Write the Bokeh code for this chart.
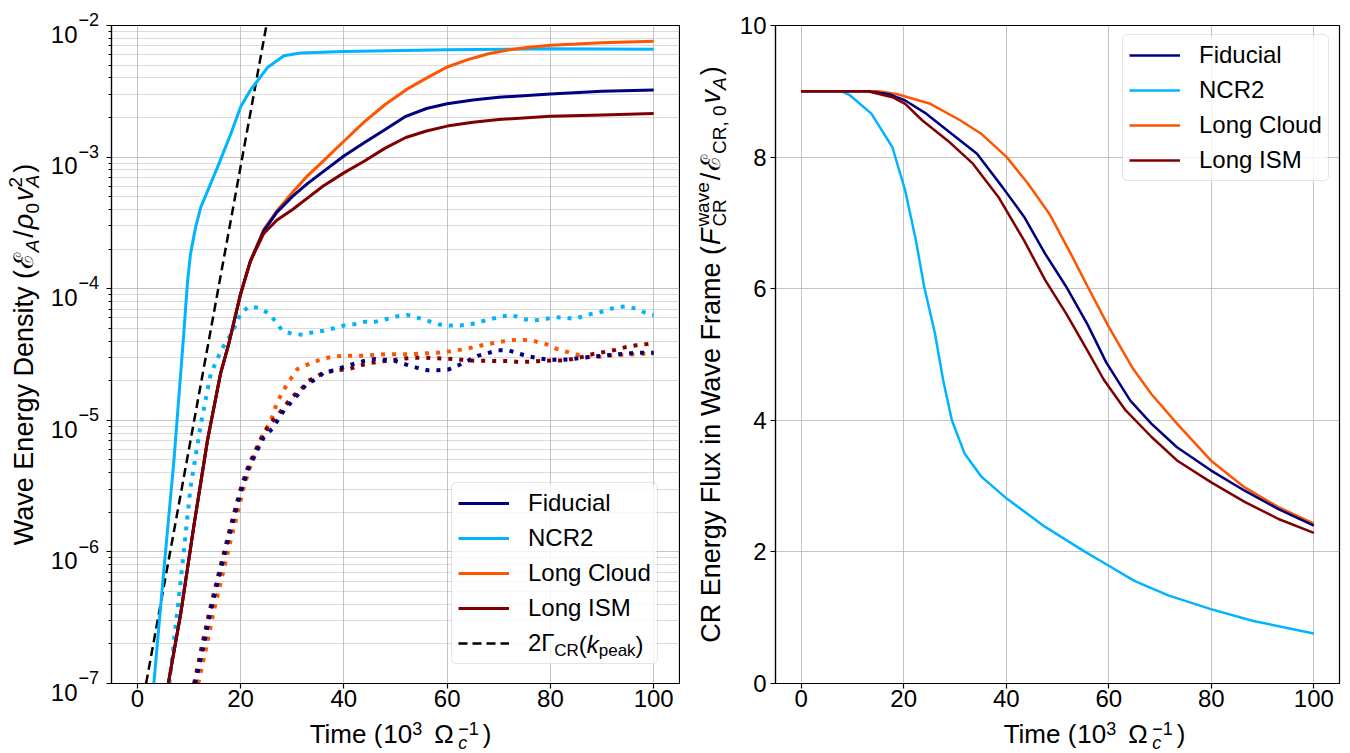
import math
from bokeh.plotting import figure
from bokeh.layouts import row, column
from bokeh.models import (Range1d, FixedTicker, Label, Legend, LegendItem, BoxAnnotation,
                          CustomJSTickFormatter)
from bokeh.embed import file_html
from bokeh.resources import INLINE

FONT = "Liberation Sans"

# ---------------- wave energy density (left panel) ----------------
# solid: total wave energy, dotted: energy at the peak mode
t_fid = [6.0, 8.4, 11.0, 13.6, 16.1, 17.7, 20.0, 21.9, 24.5, 27, 30, 33, 36, 40, 44, 48,
         52, 56, 60, 65, 70, 80, 90, 100]
e_fid = [1.0e-7, 3.39e-7, 1.62e-6, 7.08e-6, 2.25e-5, 3.80e-5, 9.12e-5, 1.62e-4, 2.75e-4,
         3.80e-4, 5.01e-4, 6.31e-4, 7.76e-4, 1.02e-3, 1.29e-3, 1.62e-3, 2.04e-3, 2.34e-3,
         2.54e-3, 2.72e-3, 2.85e-3, 3.02e-3, 3.16e-3, 3.24e-3]

t_ncr2 = [3.2, 5.0, 7.1, 9.0, 9.7, 10.3, 11.3, 12.3, 15.5, 18.1, 20.0, 21.9, 22.6, 25.2,
          28.4, 31.6, 40, 60, 80, 100]
e_ncr2 = [1.0e-7, 6.31e-7, 5.01e-6, 4.57e-5, 1.10e-4, 1.84e-4, 2.95e-4, 4.17e-4, 8.32e-4,
          1.50e-3, 2.40e-3, 3.24e-3, 3.50e-3, 4.79e-3, 5.89e-3, 6.17e-3, 6.35e-3, 6.55e-3,
          6.65e-3, 6.60e-3]

t_cloud = [6.0, 8.4, 11.0, 13.6, 16.1, 17.7, 20.0, 21.9, 24.5, 27, 30, 33, 36, 40, 44, 48,
           52, 56, 60, 64, 68, 72, 76, 80, 85, 90, 95, 100]
e_cloud = [1.0e-7, 3.39e-7, 1.62e-6, 7.08e-6, 2.25e-5, 3.80e-5, 9.12e-5, 1.62e-4, 2.82e-4,
           3.89e-4, 5.37e-4, 7.24e-4, 9.33e-4, 1.32e-3, 1.86e-3, 2.51e-3, 3.24e-3, 3.98e-3,
           4.84e-3, 5.50e-3, 6.10e-3, 6.53e-3, 6.84e-3, 7.08e-3, 7.24e-3, 7.41e-3, 7.50e-3,
           7.59e-3]

t_ism = [6.0, 8.4, 11.0, 13.6, 16.1, 17.7, 20.0, 21.9, 24.5, 27, 30, 33, 36, 40, 44, 48,
         52, 56, 60, 65, 70, 80, 90, 100]
e_ism = [1.0e-7, 3.39e-7, 1.62e-6, 7.08e-6, 2.25e-5, 3.80e-5, 9.12e-5, 1.62e-4, 2.63e-4,
         3.31e-4, 3.98e-4, 4.90e-4, 6.03e-4, 7.59e-4, 9.33e-4, 1.17e-3, 1.41e-3, 1.58e-3,
         1.72e-3, 1.84e-3, 1.93e-3, 2.04e-3, 2.09e-3, 2.14e-3]

t_rate = [1.7, 25.0]
e_rate = [1.0e-7, 1.0e-2]

tp_ncr2 = [6.2, 8.4, 10.3, 12.3, 14.2, 16.1, 17.1, 18.4, 20.0, 21.6, 23.6, 25.5, 26.8, 28.1,
           30.0, 32.0, 34.2, 36.1, 38.1, 40.0, 42.0, 44.2, 46.2, 48.3, 50.4, 52.3, 54.2, 56.3,
           58.3, 60.4, 62.3, 64.6, 66.5, 68.6, 70.6, 72.6, 74.6, 76.6, 78.6, 80.7, 82.8, 84.8,
           86.8, 88.8, 90.8, 92.7, 94.8, 96.8, 98.7, 100]
ep_ncr2 = [1.0e-7, 6.03e-7, 3.09e-6, 9.33e-6, 2.24e-5, 3.31e-5, 3.89e-5, 4.68e-5, 6.46e-5,
           7.33e-5, 7.16e-5, 6.46e-5, 5.62e-5, 4.79e-5, 4.54e-5, 4.47e-5, 4.68e-5, 4.79e-5,
           5.01e-5, 5.25e-5, 5.37e-5, 5.62e-5, 5.62e-5, 5.89e-5, 6.17e-5, 6.31e-5, 6.03e-5,
           5.69e-5, 5.37e-5, 5.25e-5, 5.25e-5, 5.37e-5, 5.62e-5, 5.89e-5, 6.17e-5, 6.31e-5,
           5.89e-5, 5.75e-5, 5.82e-5, 6.08e-5, 6.03e-5, 5.89e-5, 6.31e-5, 6.53e-5, 6.82e-5,
           7.24e-5, 7.33e-5, 7.00e-5, 6.46e-5, 6.31e-5]

tp_fid = [11.2, 12.9, 14.2, 15.8, 17.4, 18.7, 20.3, 21.6, 23.2, 24.5, 26.1, 28.4, 31.0, 32.9,
          34.9, 36.1, 38.1, 40.0, 42.0, 43.9, 46.0, 48.1, 50.0, 52.1, 54.1, 56.2, 58.2, 60.2,
          62.3, 63.9, 65.9, 67.9, 69.9, 72.0, 74.0, 76.0, 78.0, 80.0, 82.1, 84.3, 86.3, 88.3,
          90.4, 92.5, 94.6, 96.6, 98.6, 100]
ep_fid = [1.0e-7, 2.0e-7, 3.55e-7, 6.46e-7, 1.15e-6, 1.82e-6, 3.09e-6, 4.37e-6, 5.89e-6,
          7.41e-6, 8.61e-6, 1.19e-5, 1.55e-5, 1.91e-5, 2.07e-5, 2.32e-5, 2.40e-5, 2.54e-5,
          2.69e-5, 2.82e-5, 2.92e-5, 2.88e-5, 2.82e-5, 2.65e-5, 2.51e-5, 2.40e-5, 2.40e-5,
          2.43e-5, 2.63e-5, 2.82e-5, 3.09e-5, 3.24e-5, 3.41e-5, 3.39e-5, 3.20e-5, 3.05e-5,
          2.95e-5, 2.88e-5, 2.88e-5, 2.92e-5, 2.99e-5, 3.05e-5, 3.10e-5, 3.16e-5, 3.20e-5,
          3.26e-5, 3.26e-5, 3.26e-5]

tp_cloud = [11.8, 13.5, 14.8, 16.4, 17.9, 19.2, 20.6, 21.8, 23.2, 24.4, 25.8, 27.1, 29.1,
            31.0, 33.9, 36.1, 38.1, 40.0, 44.0, 48.3, 52.4, 56.6, 58.6, 60.7, 62.8, 64.8,
            66.8, 68.8, 70.9, 72.9, 75.0, 77.1, 79.1, 81.0, 83.0, 85.1, 87.1, 89.1, 91.1,
            93.2, 95.3, 97.3, 100]
ep_cloud = [1.0e-7, 2.0e-7, 3.55e-7, 6.46e-7, 1.15e-6, 1.82e-6, 3.09e-6, 4.37e-6, 6.03e-6,
            7.94e-6, 9.77e-6, 1.38e-5, 1.91e-5, 2.45e-5, 2.75e-5, 2.95e-5, 3.05e-5, 3.10e-5,
            3.10e-5, 3.18e-5, 3.18e-5, 3.24e-5, 3.27e-5, 3.35e-5, 3.45e-5, 3.57e-5, 3.72e-5,
            3.85e-5, 3.98e-5, 4.07e-5, 4.07e-5, 3.98e-5, 3.80e-5, 3.51e-5, 3.33e-5, 3.16e-5,
            3.04e-5, 3.02e-5, 3.09e-5, 3.13e-5, 3.16e-5, 3.20e-5, 3.20e-5]

tp_ism = [11.0, 12.6, 14.0, 15.6, 17.2, 18.5, 20.1, 21.4, 23.0, 24.3, 25.8, 27.4, 30.0, 31.6,
          33.2, 36.0, 38.5, 41.0, 42.9, 45.0, 47.1, 49.2, 51.2, 53.3, 55.4, 57.4, 59.5, 61.6,
          63.6, 65.7, 67.8, 69.8, 71.9, 74.0, 76.2, 78.2, 80.3, 82.3, 84.3, 86.5, 88.4, 90.5,
          92.6, 94.6, 96.7, 98.8, 100]
ep_ism = [1.0e-7, 2.0e-7, 3.55e-7, 6.46e-7, 1.15e-6, 1.82e-6, 3.09e-6, 4.37e-6, 6.03e-6,
          7.76e-6, 9.55e-6, 1.12e-5, 1.51e-5, 1.70e-5, 2.00e-5, 2.29e-5, 2.40e-5, 2.45e-5,
          2.59e-5, 2.72e-5, 2.80e-5, 2.85e-5, 2.93e-5, 2.99e-5, 2.99e-5, 2.96e-5, 2.95e-5,
          2.92e-5, 2.85e-5, 2.83e-5, 2.83e-5, 2.82e-5, 2.82e-5, 2.77e-5, 2.79e-5, 2.82e-5,
          2.85e-5, 2.85e-5, 2.92e-5, 3.05e-5, 3.20e-5, 3.31e-5, 3.43e-5, 3.60e-5, 3.72e-5,
          3.80e-5, 3.85e-5]

# ---------------- CR energy flux in wave frame (right panel) ----------------
tf_fid = [0, 13, 17, 20.3, 24.4, 29.4, 34.3, 39.3, 43.5, 47.6, 51.7, 55.9, 59.5, 64.2, 68.3,
          73.3, 79.9, 86.5, 93.1, 100]
f_fid = [9.0, 9.0, 8.96, 8.86, 8.66, 8.35, 8.05, 7.54, 7.09, 6.53, 6.03, 5.45, 4.88, 4.30,
         3.95, 3.59, 3.24, 2.93, 2.65, 2.40]

tf_ncr2 = [0, 7.9, 9.5, 13.7, 17.8, 20.3, 22.4, 24.0, 26.1, 27.7, 29.4, 31.9, 35.2, 40.1,
           47.6, 55.0, 60.0, 65.0, 71.6, 79.9, 88.2, 100]
f_ncr2 = [9.0, 9.0, 8.94, 8.66, 8.15, 7.49, 6.73, 6.03, 5.32, 4.61, 4.0, 3.49, 3.14, 2.81,
          2.38, 2.02, 1.79, 1.56, 1.34, 1.13, 0.95, 0.76]

tf_cloud = [0, 15, 18.6, 25.2, 31.0, 35.2, 40.1, 44.3, 48.4, 52.6, 55.9, 60.0, 64.6, 68.3,
            73.3, 79.9, 86.5, 93.1, 100]
f_cloud = [9.0, 9.0, 8.96, 8.81, 8.56, 8.35, 8.0, 7.59, 7.14, 6.53, 6.03, 5.42, 4.80, 4.40,
           3.95, 3.39, 2.98, 2.68, 2.43]

tf_ism = [0, 13, 17.8, 20.3, 23.6, 28.6, 33.5, 38.5, 43.5, 47.6, 51.7, 55.9, 59.0, 63.3, 68.3,
          73.3, 79.9, 86.5, 93.1, 100]
f_ism = [9.0, 9.0, 8.91, 8.81, 8.56, 8.25, 7.90, 7.39, 6.73, 6.13, 5.62, 5.05, 4.62, 4.15,
         3.75, 3.39, 3.06, 2.76, 2.50, 2.29]

x_ticks = [0, 20, 40, 60, 80, 100]
log_exponents = [-7, -6, -5, -4, -3, -2]
flux_ticks = [0, 2, 4, 6, 8, 10]

C_FID, C_NCR2, C_CLOUD, C_ISM = "#000080", "#00b4ff", "#ff5500", "#800000"

# Liberation Sans advance widths (1/1000 em) for laying out composed labels
ADV = {" ": 278, "(": 333, ")": 333, ",": 278, "/": 278, "−": 584, "A": 667, "C": 722,
       "D": 722, "E": 667, "F": 611, "I": 278, "L": 556, "M": 833, "N": 722, "R": 722,
       "T": 611, "W": 944, "a": 556, "c": 500, "d": 556, "e": 556, "g": 556, "i": 222,
       "k": 500, "l": 222, "m": 833, "n": 556, "o": 556, "p": 556, "r": 333, "s": 500,
       "t": 278, "u": 556, "v": 500, "w": 722, "x": 500, "y": 500, "Γ": 556, "Ω": 768,
       "ρ": 578, "ℰ": 620}
for d in "0123456789":
    ADV[d] = 556
MID = 0.3465   # em-box centre above the baseline, in em


def adv(text, size):
    return sum(ADV.get(ch, 600) for ch in text) * size / 1000.0


def item_width(it):
    if isinstance(it, (int, float)):
        return float(it)
    group = it if isinstance(it, list) else [it]
    return max(adv(g[0], g[1]) for g in group)


def run_width(items):
    return sum(item_width(it) for it in items)


def place_run(fig, items, x0, y0, vertical=False):
    """Lay out a run of text pieces (with sub/superscripts) in screen units, starting at
    (x0, y0) on the main baseline.  A piece is (text, size_px, style, baseline_shift_px);
    a bare number is a gap in pixels."""
    pos = 0.0
    for it in items:
        if not isinstance(it, (int, float)):
            group = it if isinstance(it, list) else [it]
            for txt, size, style, shift in group:
                c = shift + MID * size
                if vertical:
                    x, y, ang = x0 - c, y0 + pos, math.pi / 2
                else:
                    x, y, ang = x0 + pos, y0 + c, 0.0
                fig.add_layout(Label(x=x, y=y, x_units="screen", y_units="screen",
                                     text=txt, angle=ang, text_font=FONT,
                                     text_font_size=f"{size}px", text_font_style=style,
                                     text_color="black", text_align="left",
                                     text_baseline="middle"))
        pos += item_width(it)


def strip(w, h):
    """Axis-free canvas carrying axis titles and tick texts beside a panel."""
    s = figure(width=w, height=h, x_range=Range1d(0, w), y_range=Range1d(0, h),
               x_axis_location=None, y_axis_location=None, toolbar_location=None,
               output_backend="svg", min_border=0)
    s.outline_line_color = None
    s.background_fill_color = "white"
    s.border_fill_color = "white"
    s.grid.visible = False
    return s


def style_axes(p):
    p.background_fill_color = "white"
    p.border_fill_color = "white"
    p.outline_line_color = "black"
    p.outline_line_width = 1.2
    for ax in (p.xaxis[0], p.yaxis[0]):
        ax.axis_line_color = "black"
        ax.axis_line_width = 1.2
        ax.major_tick_line_color = "black"
        ax.major_tick_line_width = 1.2
        ax.major_tick_out = 5
        ax.major_tick_in = 0
        ax.minor_tick_line_color = "black"
        ax.minor_tick_out = 3
        ax.minor_tick_in = 0
        ax.major_label_text_font = FONT
        ax.major_label_text_font_size = "24px"
        ax.major_label_text_color = "black"
    p.xaxis.major_label_standoff = 1
    p.xgrid.grid_line_color = "#b0b0b0"
    p.xgrid.grid_line_alpha = 0.75
    p.ygrid.grid_line_color = "#b0b0b0"
    p.ygrid.grid_line_alpha = 0.75


# legend geometry (screen px)
LEG_PAD, LEG_GLYPH, LEG_STANDOFF, LEG_ROW, LEG_GAP = 6, 51, 19, 28, 7
LEG_TEXT_W = adv("Long Cloud", 24)


def make_legend(p, items, left, bottom):
    """Legend with a transparent body; its translucent fill sits beneath the lines so
    that text added on top of the legend stays fully visible."""
    n = len(items)
    height = 2 * LEG_PAD + n * LEG_ROW + (n - 1) * LEG_GAP
    width = 2 * LEG_PAD + LEG_GLYPH + LEG_STANDOFF + LEG_TEXT_W
    box = BoxAnnotation(left=left, right=left + width, bottom=bottom, top=bottom + height,
                        left_units="screen", right_units="screen", top_units="screen",
                        bottom_units="screen", fill_color="white", fill_alpha=0.8,
                        line_color=None, level="underlay")
    if "border_radius" in BoxAnnotation.properties():
        box.border_radius = 5
    p.add_layout(box)
    leg = Legend(items=items, location=(left, bottom), label_text_font=FONT,
                 label_text_font_size="24px", label_text_color="black",
                 glyph_width=LEG_GLYPH, glyph_height=LEG_ROW, label_height=LEG_ROW,
                 label_standoff=LEG_STANDOFF, padding=LEG_PAD, spacing=LEG_GAP, margin=0,
                 border_line_color="#cccccc", border_line_width=1,
                 background_fill_color="white", background_fill_alpha=0.0)
    if "border_radius" in Legend.properties():
        leg.border_radius = 5
    p.add_layout(leg)
    return leg


H = 753
FS, SS = 27, 19          # axis-title font and its script size
XS, XSS = 26, 18         # time-axis title font and its script size
xlabel = [("Time (", XS, "normal", 0), ("10", XS, "normal", 0), ("3", XSS, "normal", 9),
          12, ("Ω", XS, "normal", 0), 4, [("−1", XSS, "normal", 9), ("c", XSS, "italic", -6)],
          4, (")", XS, "normal", 0)]

PANEL_H, BELOW_H = 718, 35
FRAME_TOP, FRAME_BOTTOM = 25, 683          # frame rows of both panels (from top)
FRAME_W = 568
FRAME_MID = H - (FRAME_TOP + FRAME_BOTTOM) / 2.0   # frame centre, measured from bottom
X_BASE = BELOW_H - (743 - PANEL_H)                 # time-title baseline in its strip

# ================= left panel =================
p1 = figure(width=574, height=PANEL_H, x_range=Range1d(-5, 105),
            y_range=Range1d(1e-7, 1e-2), y_axis_type="log", output_backend="svg",
            toolbar_location=None, min_border_left=5, min_border_right=1,
            min_border_top=FRAME_TOP, min_border_bottom=PANEL_H - FRAME_BOTTOM)
style_axes(p1)
p1.xaxis.ticker = FixedTicker(ticks=x_ticks)
p1.xaxis.minor_tick_out = 0
major_log = [10.0 ** e for e in log_exponents]
minor_log = [k * 10.0 ** e for e in log_exponents[:-1] for k in range(2, 10)]
p1.yaxis.ticker = FixedTicker(ticks=major_log, minor_ticks=minor_log)
p1.yaxis.formatter = CustomJSTickFormatter(code="return '';")
p1.yaxis.major_label_standoff = 0
p1.ygrid.minor_grid_line_color = "#b0b0b0"
p1.ygrid.minor_grid_line_alpha = 0.45

LW = 3
DOT = dict(line_width=4, line_dash="4 7", line_cap="butt")
p1.line(tp_ncr2, ep_ncr2, line_color=C_NCR2, **DOT)
p1.line(tp_cloud, ep_cloud, line_color=C_CLOUD, **DOT)
p1.line(tp_ism, ep_ism, line_color=C_ISM, **DOT)
p1.line(tp_fid, ep_fid, line_color=C_FID, **DOT)
r_rate = p1.line(t_rate, e_rate, line_color="black", line_width=2.5, line_dash="9 5")
r_ncr2 = p1.line(t_ncr2, e_ncr2, line_color=C_NCR2, line_width=LW)
r_cloud = p1.line(t_cloud, e_cloud, line_color=C_CLOUD, line_width=LW)
r_fid = p1.line(t_fid, e_fid, line_color=C_FID, line_width=LW)
r_ism = p1.line(t_ism, e_ism, line_color=C_ISM, line_width=LW)

LEG1_X, LEG1_Y = 340, 19
make_legend(p1, [LegendItem(label="Fiducial", renderers=[r_fid]),
                 LegendItem(label="NCR2", renderers=[r_ncr2]),
                 LegendItem(label="Long Cloud", renderers=[r_cloud]),
                 LegendItem(label="Long ISM", renderers=[r_ism]),
                 LegendItem(label="2Γ", renderers=[r_rate])], LEG1_X, LEG1_Y)

# remainder of the growth-rate legend entry: 2Γ_CR(k_peak)
lx = LEG1_X + LEG_PAD + LEG_GLYPH + LEG_STANDOFF + adv("2Γ", 24)
row5 = LEG1_Y + LEG_PAD + LEG_ROW / 2.0
for txt, size, style, dy in [("CR", 17, "normal", -6), ("(", 24, "normal", 0),
                             ("k", 24, "italic", 0), ("peak", 17, "normal", -6),
                             (")", 24, "normal", 0)]:
    p1.add_layout(Label(x=lx, y=row5 + dy, x_units="screen", y_units="screen", text=txt,
                        text_font=FONT, text_font_size=f"{size}px", text_font_style=style,
                        text_color="black", text_align="left", text_baseline="middle",
                        level="overlay"))
    lx += adv(txt, size)

# strip left of the left panel: log tick texts and the axis title
ppd = (FRAME_BOTTOM - FRAME_TOP) / float(len(log_exponents) - 1)
s1 = strip(106, H)
for e in log_exponents:
    yt = (H - FRAME_BOTTOM) + (e - log_exponents[0]) * ppd
    s1.add_layout(Label(x=77, y=yt - 17.2 + MID * 24, x_units="screen", y_units="screen",
                        text="10", text_font=FONT, text_font_size="24px",
                        text_color="black", text_align="right", text_baseline="middle"))
    s1.add_layout(Label(x=78, y=yt - 0.5 + MID * 18, x_units="screen", y_units="screen",
                        text=f"−{abs(e)}", text_font=FONT, text_font_size="18px",
                        text_color="black", text_align="left", text_baseline="middle"))

ylabel1 = [("Wave Energy Density (", FS, "normal", 0), ("ℰ", FS, "normal", 0),
           ("A", SS, "italic", -6), 2, ("/", FS, "normal", 0), 1, ("ρ", FS, "italic", 0),
           ("0", SS, "normal", -6), 2, ("v", FS, "italic", 0),
           [("2", SS, "normal", 11), ("A", SS, "italic", -6)], 2, (")", FS, "normal", 0)]
place_run(s1, ylabel1, 33, FRAME_MID - run_width(ylabel1) / 2, vertical=True)

b1 = strip(574, BELOW_H)
place_run(b1, xlabel, (5 + FRAME_W / 2) - run_width(xlabel) / 2, X_BASE)

# ================= right panel =================
S2_W = 56
p2 = figure(width=1350 - 680 - S2_W, height=PANEL_H, x_range=Range1d(-5, 105),
            y_range=Range1d(0, 10), output_backend="svg", toolbar_location=None,
            min_border_left=771 - 680 - S2_W, min_border_right=11,
            min_border_top=FRAME_TOP, min_border_bottom=PANEL_H - FRAME_BOTTOM)
style_axes(p2)
p2.xaxis.ticker = FixedTicker(ticks=x_ticks)
p2.yaxis.ticker = FixedTicker(ticks=flux_ticks)
p2.xaxis.minor_tick_out = 0
p2.yaxis.minor_tick_out = 0
p2.yaxis.major_label_standoff = 4

LW2 = 2.5
q_ncr2 = p2.line(tf_ncr2, f_ncr2, line_color=C_NCR2, line_width=LW2)
q_cloud = p2.line(tf_cloud, f_cloud, line_color=C_CLOUD, line_width=LW2)
q_fid = p2.line(tf_fid, f_fid, line_color=C_FID, line_width=LW2)
q_ism = p2.line(tf_ism, f_ism, line_color=C_ISM, line_width=LW2)

make_legend(p2, [LegendItem(label="Fiducial", renderers=[q_fid]),
                 LegendItem(label="NCR2", renderers=[q_ncr2]),
                 LegendItem(label="Long Cloud", renderers=[q_cloud]),
                 LegendItem(label="Long ISM", renderers=[q_ism])], 347, 502)

s2 = strip(S2_W, H)
ylabel2 = [("CR Energy Flux in Wave Frame (", FS, "normal", 0), ("F", FS, "italic", 0), 2,
           [("wave", SS, "normal", 11), ("CR", SS, "normal", -6)], 2, ("/", FS, "normal", 0),
           2, ("ℰ", FS, "normal", 0), ("CR, 0", SS, "normal", -6), 2, ("v", FS, "italic", 0),
           ("A", SS, "italic", -6), 2, (")", FS, "normal", 0)]
place_run(s2, ylabel2, 40, FRAME_MID - run_width(ylabel2) / 2, vertical=True)

b2 = strip(1350 - 680 - S2_W, BELOW_H)
place_run(b2, xlabel, (771 - 680 - S2_W + FRAME_W / 2) - run_width(xlabel) / 2, X_BASE)

layout = row(s1, column(p1, b1), s2, column(p2, b2))
open("out.html", "w").write(file_html(layout, INLINE))
